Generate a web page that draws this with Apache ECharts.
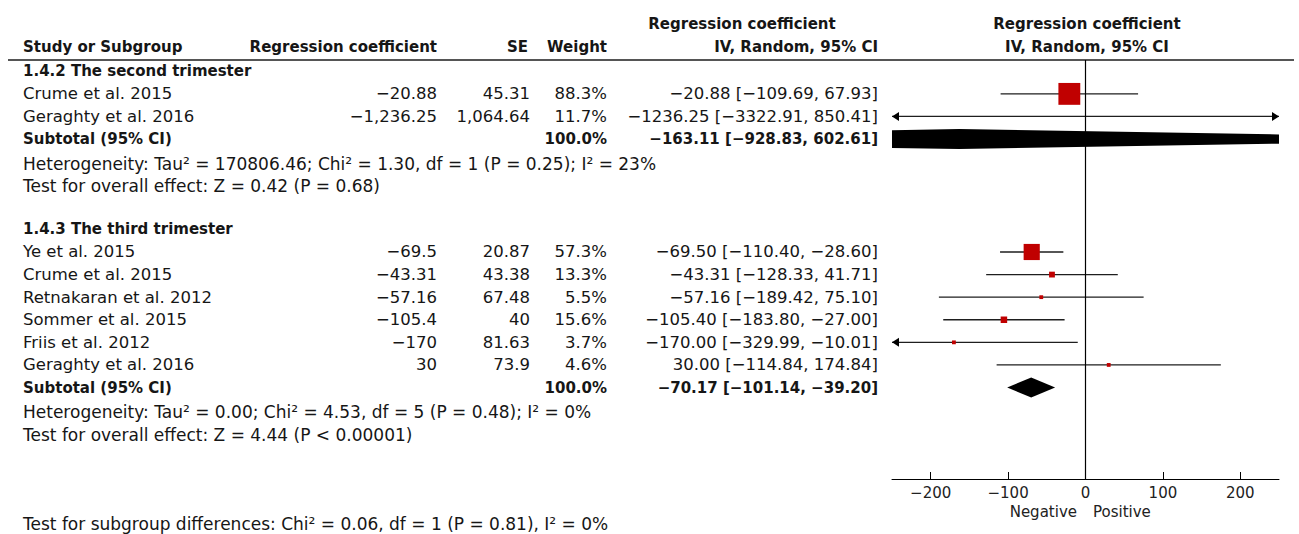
<!DOCTYPE html>
<html><head><meta charset="utf-8">
<script src="https://cdn.jsdelivr.net/npm/echarts@6/dist/echarts.min.js"></script>
<style>html,body{margin:0;padding:0;background:#fff}#c{width:1299px;height:534px}</style>
</head><body><div id="c"></div>
<script>
// ---------- data ----------
const groupNames = ['1.4.2 The second trimester', '1.4.3 The third trimester'];

const studies2 = ['Crume et al. 2015', 'Geraghty et al. 2016'];
const coef2 = [-20.88, -1236.25];
const se2 = [45.31, 1064.64];
const weight2 = [88.3, 11.7];
const ciLow2 = [-109.69, -3322.91];
const ciHigh2 = [67.93, 850.41];
const subtotal2 = [-163.11, -928.83, 602.61]; // estimate, lower, upper
const het2 = 'Heterogeneity: Tau² = 170806.46; Chi² = 1.30, df = 1 (P = 0.25); I² = 23%';
const overall2 = 'Test for overall effect: Z = 0.42 (P = 0.68)';

const studies3 = ['Ye et al. 2015', 'Crume et al. 2015', 'Retnakaran et al. 2012', 'Sommer et al. 2015', 'Friis et al. 2012', 'Geraghty et al. 2016'];
const coef3 = [-69.5, -43.31, -57.16, -105.4, -170, 30];
const se3 = [20.87, 43.38, 67.48, 40, 81.63, 73.9];
const weight3 = [57.3, 13.3, 5.5, 15.6, 3.7, 4.6];
const ciLow3 = [-110.40, -128.33, -189.42, -183.80, -329.99, -114.84];
const ciHigh3 = [-28.60, 41.71, 75.10, -27.00, -10.01, 174.84];
const subtotal3 = [-70.17, -101.14, -39.20];
const het3 = 'Heterogeneity: Tau² = 0.00; Chi² = 4.53, df = 5 (P = 0.48); I² = 0%';
const overall3 = 'Test for overall effect: Z = 4.44 (P < 0.00001)';

const subgroupTest = 'Test for subgroup differences: Chi² = 0.06, df = 1 (P = 0.81), I² = 0%';
const tickValues = [-200, -100, 0, 100, 200];
const axisMin = -250, axisMax = 250;
const favourLeft = 'Negative', favourRight = 'Positive';
const colHeaders = ['Study or Subgroup', 'Regression coefficient', 'SE', 'Weight', 'Regression coefficient', 'IV, Random, 95% CI'];

// ---------- build rows ----------
const groups = [
  {name: groupNames[0], studies: studies2, coef: coef2, se: se2, w: weight2, lo: ciLow2, hi: ciHigh2, sub: subtotal2, het: het2, ov: overall2},
  {name: groupNames[1], studies: studies3, coef: coef3, se: se3, w: weight3, lo: ciLow3, hi: ciHigh3, sub: subtotal3, het: het3, ov: overall3}
];
const minus = s => String(s).replace(/-/g, '\u2212');
const fmtNum = v => minus(v.toLocaleString('en-US', {maximumFractionDigits: 2}));
const fmtCI = (e, l, h) => minus(e.toFixed(2) + ' [' + l.toFixed(2) + ', ' + h.toFixed(2) + ']');

const COL = {name: 23, coef: 437, se: 530, w: 607, ci: 878};
const cells = [];      // table text cells
const ciData = [];     // [lo, hi, row]
const boxData = [];    // [est, row, weight]
const diaData = [];    // [est, lo, hi, row]
let start = 0;
groups.forEach(g => {
  cells.push({x: COL.name, row: start, text: g.name, align: 'left', kind: 'bold'});
  g.studies.forEach((s, i) => {
    const r = start + 1 + i;
    cells.push({x: COL.name, row: r, text: s, align: 'left'});
    cells.push({x: COL.coef, row: r, text: fmtNum(g.coef[i]), align: 'right'});
    cells.push({x: COL.se, row: r, text: fmtNum(g.se[i]), align: 'right'});
    cells.push({x: COL.w, row: r, text: g.w[i].toFixed(1) + '%', align: 'right'});
    cells.push({x: COL.ci, row: r, text: fmtCI(g.coef[i], g.lo[i], g.hi[i]), align: 'right'});
    ciData.push([g.lo[i], g.hi[i], r]);
    boxData.push([g.coef[i], r, g.w[i]]);
  });
  const sr = start + 1 + g.studies.length;
  const totalW = g.w.reduce((a, b) => a + b, 0);
  cells.push({x: COL.name, row: sr, text: 'Subtotal (95% CI)', align: 'left', kind: 'bold'});
  cells.push({x: COL.w, row: sr, text: totalW.toFixed(1) + '%', align: 'right', kind: 'bold'});
  cells.push({x: COL.ci, row: sr, text: fmtCI(g.sub[0], g.sub[1], g.sub[2]), align: 'right', kind: 'bold'});
  diaData.push([g.sub[0], g.sub[1], g.sub[2], sr]);
  cells.push({x: COL.name, row: sr + 1.1, text: g.het, align: 'left', kind: 'stat'});
  cells.push({x: COL.name, row: sr + 2.1, text: g.ov, align: 'left', kind: 'stat'});
  start = sr + 4;
});

const FONT = "'DejaVu Sans', Verdana, sans-serif";
const TXT = '#161616';
const FONTS = {bold: 'bold 15px ' + FONT, stat: '17px ' + FONT, normal: '16.5px ' + FONT};

function clipPoly(pts, xb, keepGreater) {
  const out = [];
  for (let i = 0; i < pts.length; i++) {
    const a = pts[i], b = pts[(i + 1) % pts.length];
    const ina = keepGreater ? a[0] >= xb : a[0] <= xb;
    const inb = keepGreater ? b[0] >= xb : b[0] <= xb;
    if (ina) out.push(a);
    if (ina !== inb) {
      const t = (xb - a[0]) / (b[0] - a[0]);
      out.push([xb, a[1] + t * (b[1] - a[1])]);
    }
  }
  return out;
}

const chart = echarts.init(document.getElementById('c'), null, {renderer: 'svg'});
const gridTop = 60, gridBottom = 55;
const yMin = -0.5, yMax = 18.05;

chart.setOption({
  animation: false,
  backgroundColor: '#fff',
  grid: [
    {left: 892, right: 20, top: gridTop, bottom: gridBottom},
    {left: 0, right: 0, top: gridTop, bottom: gridBottom}
  ],
  xAxis: [
    {
      gridIndex: 0, type: 'value', min: axisMin, max: axisMax,
      axisLine: {show: true, onZero: false, lineStyle: {color: '#000', width: 1}},
      axisTick: {show: true, inside: true, length: 7, customValues: tickValues, lineStyle: {color: '#000', width: 1}},
      axisLabel: {show: true, customValues: tickValues, formatter: v => minus(v), fontFamily: FONT, fontSize: 15, color: '#222', margin: 6},
      splitLine: {show: false}
    },
    {gridIndex: 1, type: 'value', min: 0, max: 1299, show: false}
  ],
  yAxis: [
    {gridIndex: 0, type: 'value', inverse: true, min: yMin, max: yMax, show: false},
    {gridIndex: 1, type: 'value', inverse: true, min: yMin, max: yMax, show: false}
  ],
  graphic: [
    {type: 'line', shape: {x1: 8, y1: 60, x2: 1294, y2: 60}, style: {stroke: '#555', lineWidth: 2}, z: 1},
    {type: 'text', x: 23, y: 47, style: {text: colHeaders[0], font: FONTS.bold, fill: TXT, align: 'left', verticalAlign: 'middle'}},
    {type: 'text', x: 437, y: 47, style: {text: colHeaders[1], font: FONTS.bold, fill: TXT, align: 'right', verticalAlign: 'middle'}},
    {type: 'text', x: 528, y: 47, style: {text: colHeaders[2], font: FONTS.bold, fill: TXT, align: 'right', verticalAlign: 'middle'}},
    {type: 'text', x: 607, y: 47, style: {text: colHeaders[3], font: FONTS.bold, fill: TXT, align: 'right', verticalAlign: 'middle'}},
    {type: 'text', x: 742, y: 24, style: {text: colHeaders[4], font: FONTS.bold, fill: TXT, align: 'center', verticalAlign: 'middle'}},
    {type: 'text', x: 878, y: 47, style: {text: colHeaders[5], font: FONTS.bold, fill: TXT, align: 'right', verticalAlign: 'middle'}},
    {type: 'text', x: 1087, y: 24, style: {text: colHeaders[4], font: FONTS.bold, fill: TXT, align: 'center', verticalAlign: 'middle'}},
    {type: 'text', x: 1087, y: 47, style: {text: colHeaders[5], font: FONTS.bold, fill: TXT, align: 'center', verticalAlign: 'middle'}},
    {type: 'text', x: 1077, y: 512, style: {text: favourLeft, font: '15px ' + FONT, fill: '#222', align: 'right', verticalAlign: 'middle'}},
    {type: 'text', x: 1093, y: 512, style: {text: favourRight, font: '15px ' + FONT, fill: '#222', align: 'left', verticalAlign: 'middle'}},
    {type: 'text', x: 23, y: 524, style: {text: subgroupTest, font: FONTS.stat, fill: TXT, align: 'left', verticalAlign: 'middle'}}
  ],
  series: [
    {
      type: 'custom', name: 'ci', xAxisIndex: 0, yAxisIndex: 0, silent: true, z: 3,
      data: ciData,
      renderItem(params, api) {
        const lo = api.value(0), hi = api.value(1), row = api.value(2);
        const p1 = api.coord([Math.max(lo, axisMin), row]);
        const p2 = api.coord([Math.min(hi, axisMax), row]);
        const ch = [{type: 'line', shape: {x1: p1[0], y1: p1[1], x2: p2[0], y2: p2[1]}, style: {stroke: '#1e1e1e', lineWidth: 1.3}}];
        if (lo < axisMin) ch.push({type: 'polygon', shape: {points: [[p1[0], p1[1]], [p1[0] + 7, p1[1] - 4.5], [p1[0] + 7, p1[1] + 4.5]]}, style: {fill: '#000'}});
        if (hi > axisMax) ch.push({type: 'polygon', shape: {points: [[p2[0], p2[1]], [p2[0] - 7, p2[1] - 4.5], [p2[0] - 7, p2[1] + 4.5]]}, style: {fill: '#000'}});
        return {type: 'group', children: ch};
      }
    },
    {
      type: 'scatter', name: 'box', xAxisIndex: 0, yAxisIndex: 0, silent: true, z: 4,
      symbol: 'rect',
      symbolSize: v => Math.max(3.8, 0.95 * Math.pow(v[2], 0.7)),
      itemStyle: {color: '#c00000', opacity: 1},
      data: boxData,
      markLine: {
        silent: true, symbol: ['none', 'none'], label: {show: false},
        lineStyle: {color: '#000', width: 1.2, type: 'solid'},
        data: [{xAxis: 0}]
      }
    },
    {
      type: 'custom', name: 'diamond', xAxisIndex: 0, yAxisIndex: 0, silent: true, z: 3,
      data: diaData,
      renderItem(params, api) {
        const row = api.value(3);
        const pe = api.coord([api.value(0), row]);
        const pl = api.coord([api.value(1), row]);
        const ph = api.coord([api.value(2), row]);
        const half = 10;
        let pts = [[pl[0], pl[1]], [pe[0], pe[1] - half], [ph[0], ph[1]], [pe[0], pe[1] + half]];
        const cs = params.coordSys;
        pts = clipPoly(pts, cs.x, true);
        pts = clipPoly(pts, cs.x + cs.width, false);
        return {type: 'polygon', shape: {points: pts}, style: {fill: '#000'}};
      }
    },
    {
      type: 'custom', name: 'table', xAxisIndex: 1, yAxisIndex: 1, silent: true, z: 5,
      data: cells.map((c, i) => [c.x, c.row, i]),
      renderItem(params, api) {
        const c = cells[api.value(2)];
        const p = api.coord([api.value(0), api.value(1)]);
        return {type: 'text', x: p[0], y: p[1], style: {
          text: c.text, align: c.align, verticalAlign: 'middle', fill: TXT,
          font: FONTS[c.kind || 'normal']
        }};
      }
    }
  ]
});
</script>
</body></html>
